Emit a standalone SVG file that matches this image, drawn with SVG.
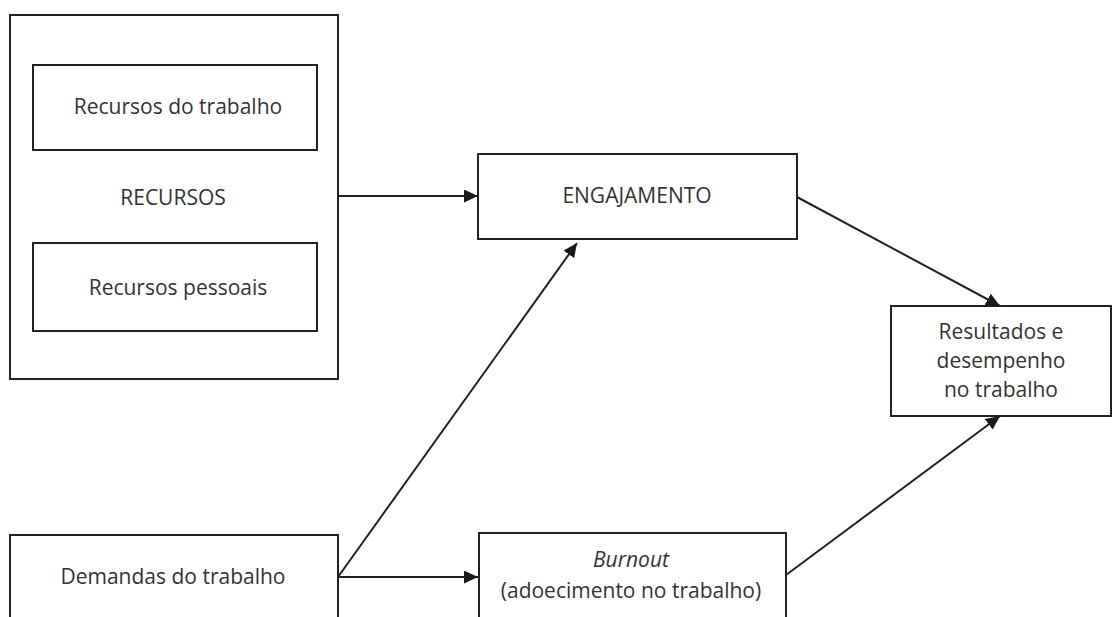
<svg xmlns="http://www.w3.org/2000/svg" width="1112" height="617" viewBox="0 0 1112 617">
<defs>
<marker id="arr" viewBox="0 0 14 13" refX="14" refY="6.5" markerWidth="14" markerHeight="13" markerUnits="userSpaceOnUse" orient="auto">
<path d="M0,0 L14,6.5 L0,13 z" fill="#1a1a1a"/>
</marker>
<style>
.box{fill:#fff;stroke:#222;stroke-width:2}
.t{font-family:"Open Sans","Liberation Sans",sans-serif;font-size:21px;fill:#333;text-anchor:middle}
.c{stroke:#222;stroke-width:2;fill:none;marker-end:url(#arr)}
</style>
</defs>
<rect width="1112" height="617" fill="#fff"/>
<g id="recursos">
<rect class="box" x="10" y="15" width="328" height="364"/>
<text class="t" x="173" y="205">RECURSOS</text>
</g>
<g id="recursos-trabalho">
<rect class="box" x="33" y="65" width="284" height="85"/>
<text class="t" x="178" y="114">Recursos do trabalho</text>
</g>
<g id="recursos-pessoais">
<rect class="box" x="33" y="243" width="284" height="88"/>
<text class="t" x="178" y="295">Recursos pessoais</text>
</g>
<g id="engajamento">
<rect class="box" x="478" y="154" width="319" height="85"/>
<text class="t" x="637" y="203">ENGAJAMENTO</text>
</g>
<g id="resultados">
<rect class="box" x="891" y="306" width="220" height="110"/>
<text class="t" x="1001" y="339">Resultados e</text>
<text class="t" x="1001" y="368">desempenho</text>
<text class="t" x="1001" y="397">no trabalho</text>
</g>
<g id="demandas">
<rect class="box" x="10" y="535" width="328" height="100"/>
<text class="t" x="173" y="584">Demandas do trabalho</text>
</g>
<g id="burnout">
<rect class="box" x="479" y="533" width="307" height="100"/>
<text class="t" x="631" y="567" font-style="italic">Burnout</text>
<text class="t" x="631" y="598">(adoecimento no trabalho)</text>
</g>
<g id="connectors">
<line class="c" x1="338" y1="196" x2="478" y2="196"/>
<line class="c" x1="797" y1="197" x2="1000" y2="306"/>
<line class="c" x1="338" y1="577" x2="577" y2="243"/>
<line class="c" x1="338" y1="577" x2="478" y2="577"/>
<line class="c" x1="786" y1="575" x2="1000" y2="416"/>
</g>
</svg>
